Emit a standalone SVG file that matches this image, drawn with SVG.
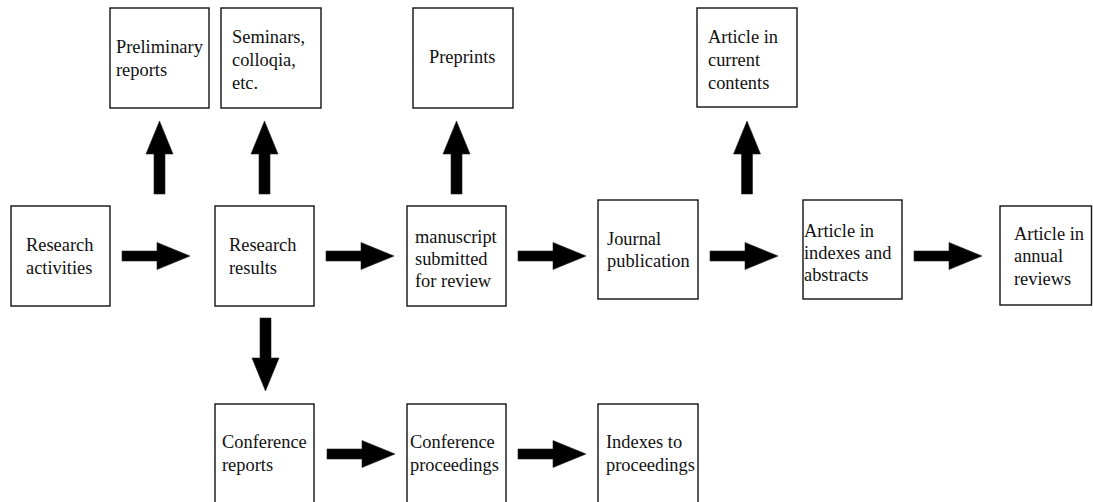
<svg xmlns="http://www.w3.org/2000/svg" xmlns:xlink="http://www.w3.org/1999/xlink" width="1093" height="502" viewBox="0 0 1093 502">
<style>
.box{fill:#fff;stroke:#111;stroke-width:1.4}
.t{font-family:'Liberation Serif','Tinos','DejaVu Serif',serif;font-size:18.4px;fill:#111}
.arr{fill:#000;stroke:#222;stroke-width:0.6}
</style>
<defs>
<polygon id="h" class="arr" points="0,-5 35,-5 35,-13.5 68,0 35,13.5 35,5 0,5"/>
<polygon id="u" class="arr" points="-5.5,73 -5.5,33 -13.5,33 0,0 13.5,33 5.5,33 5.5,73"/>
</defs>
<rect width="1093" height="502" fill="#fff"/>
<g id="connectors">
<use xlink:href="#h" x="122" y="256"/>
<use xlink:href="#h" x="326" y="256"/>
<use xlink:href="#h" x="518" y="256"/>
<use xlink:href="#h" x="710" y="256"/>
<use xlink:href="#h" x="914" y="256"/>
<use xlink:href="#h" x="327" y="454"/>
<use xlink:href="#h" x="518" y="454"/>
<use xlink:href="#u" x="159.5" y="121"/>
<use xlink:href="#u" x="264.5" y="121"/>
<use xlink:href="#u" x="456.5" y="121"/>
<use xlink:href="#u" x="747" y="121"/>
<polygon class="arr" points="260,318 271,318 271,358 279,358 265.5,391 252,358 260,358"/>
</g>
<g id="preliminary"><rect class="box" x="110" y="8" width="99" height="100"/><text class="t" x="116" y="53">Preliminary</text><text class="t" x="116" y="76">reports</text></g>
<g id="seminars"><rect class="box" x="221" y="8" width="100" height="100"/><text class="t" x="232" y="43">Seminars,</text><text class="t" x="232" y="66">colloqia,</text><text class="t" x="232" y="89">etc.</text></g>
<g id="preprints"><rect class="box" x="413" y="8" width="100" height="100"/><text class="t" x="429" y="63">Preprints</text></g>
<g id="current"><rect class="box" x="697" y="8" width="100" height="99"/><text class="t" x="708" y="43">Article in</text><text class="t" x="708" y="66">current</text><text class="t" x="708" y="89">contents</text></g>
<g id="activities"><rect class="box" x="11" y="206" width="99" height="100"/><text class="t" x="26" y="251">Research</text><text class="t" x="26" y="274">activities</text></g>
<g id="results"><rect class="box" x="215" y="206" width="99" height="100"/><text class="t" x="229" y="251">Research</text><text class="t" x="229" y="274">results</text></g>
<g id="manuscript"><rect class="box" x="407" y="206" width="99" height="100"/><text class="t" x="415" y="243">manuscript</text><text class="t" x="415" y="265">submitted</text><text class="t" x="415" y="287">for review</text></g>
<g id="journal"><rect class="box" x="598" y="200" width="100" height="99"/><text class="t" x="607" y="245">Journal</text><text class="t" x="607" y="267">publication</text></g>
<g id="indexes"><rect class="box" x="803" y="200" width="99" height="99"/><text class="t" x="804" y="237">Article in</text><text class="t" x="804" y="259">indexes and</text><text class="t" x="804" y="281">abstracts</text></g>
<g id="annual"><rect class="box" x="1000" y="206" width="91.5" height="99"/><text class="t" x="1014" y="240">Article in</text><text class="t" x="1014" y="262">annual</text><text class="t" x="1014" y="285">reviews</text></g>
<g id="conf-reports"><rect class="box" x="215" y="404" width="99" height="100"/><text class="t" x="222" y="448">Conference</text><text class="t" x="222" y="471">reports</text></g>
<g id="conf-proceedings"><rect class="box" x="407" y="404" width="99" height="100"/><text class="t" x="410" y="448">Conference</text><text class="t" x="410" y="471">proceedings</text></g>
<g id="indexes-proceedings"><rect class="box" x="598" y="404" width="100" height="100"/><text class="t" x="606" y="448">Indexes to</text><text class="t" x="606" y="471">proceedings</text></g>
</svg>
